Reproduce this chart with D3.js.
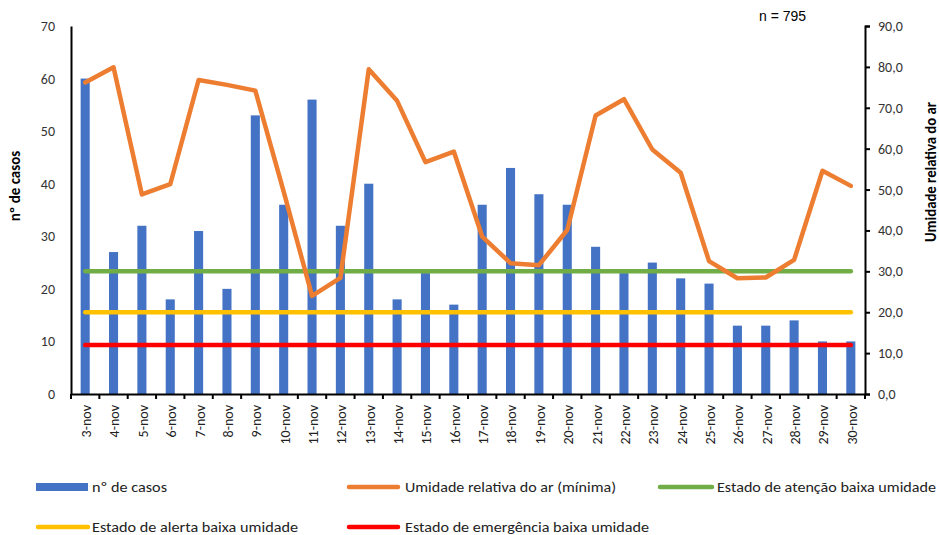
<!DOCTYPE html>
<html><head><meta charset="utf-8">
<script src="https://cdn.jsdelivr.net/npm/d3@7"></script>
<style>
body{margin:0;background:#fff;}
svg{display:block;font-family:Carlito,Calibri,Lato,sans-serif;}
</style></head>
<body><svg id="c" width="939" height="535"></svg>
<script>
const days = ["3-nov","4-nov","5-nov","6-nov","7-nov","8-nov","9-nov","10-nov","11-nov","12-nov","13-nov","14-nov","15-nov","16-nov","17-nov","18-nov","19-nov","20-nov","21-nov","22-nov","23-nov","24-nov","25-nov","26-nov","27-nov","28-nov","29-nov","30-nov"];
const cases = [60,27,32,18,31,20,53,36,56,32,40,18,23,17,36,43,38,36,28,23,25,22,21,13,13,14,10,10];
const humidity = [76.2,79.9,48.8,51.3,76.8,75.6,74.2,49.5,24.0,28.4,79.4,71.7,56.7,59.3,38.5,32.0,31.5,40.1,68.1,72.1,59.8,54.1,32.5,28.3,28.5,32.8,54.6,50.9];
const attention = days.map(() => 30);
const alertLvl = days.map(() => 20);
const emergency = days.map(() => 12);
const leftTicks = [0,10,20,30,40,50,60,70];
const rightTicks = [0,10,20,30,40,50,60,70,80,90];

const svg = d3.select("#c");
const L = 71, R = 865, T = 26, B = 394;
const x = d3.scaleBand().domain(days).range([L, R]).padding(0);
const yL = d3.scaleLinear().domain([0,70]).range([B, T]);
const yR = d3.scaleLinear().domain([0,90]).range([B, T]);
const cx = d => x(d) + x.bandwidth()/2;
const bw = x.bandwidth()*0.32;

// bars
svg.append("g").selectAll("rect").data(days).join("rect")
  .attr("x", (d) => cx(d) - bw/2)
  .attr("width", bw)
  .attr("y", (d,i) => yL(cases[i]))
  .attr("height", (d,i) => yL(0) - yL(cases[i]))
  .attr("fill", "#4472C4");

// threshold lines
const lineGen = arr => d3.line().x((d,i) => cx(days[i])).y(d => yR(d))(arr);
[[attention,"#70AD47"],[alertLvl,"#FFC000"],[emergency,"#FF0000"]].forEach(([arr,col]) => {
  svg.append("path").attr("d", lineGen(arr)).attr("fill","none")
    .attr("stroke", col).attr("stroke-width", 4.5).attr("stroke-linecap","round");
});
// humidity line
svg.append("path").attr("d", lineGen(humidity)).attr("fill","none")
  .attr("stroke","#ED7D31").attr("stroke-width",4.5).attr("stroke-linecap","round").attr("stroke-linejoin","round");

// left axis
const gL = svg.append("g").attr("transform",`translate(${L},0)`)
  .call(d3.axisLeft(yL).tickValues(leftTicks).tickSize(0).tickPadding(16));
gL.select(".domain").attr("stroke","#000").attr("stroke-width",2);
gL.selectAll("text").attr("font-size",14).attr("fill","#333").attr("font-family","Carlito,Calibri,Lato,sans-serif");

// right axis
const gR = svg.append("g").attr("transform",`translate(${R},0)`)
  .call(d3.axisRight(yR).tickValues(rightTicks).tickSize(5).tickPadding(8)
    .tickFormat(d => d.toFixed(1).replace(".", ",")));
gR.select(".domain").attr("stroke","#000").attr("stroke-width",2);
gR.selectAll("line").attr("stroke","#000").attr("stroke-width",2);
gR.selectAll("text").attr("font-size",14).attr("fill","#333").attr("font-family","Carlito,Calibri,Lato,sans-serif");

// bottom axis
const gB = svg.append("g").attr("transform",`translate(0,${B})`)
  .call(d3.axisBottom(x).tickSize(0).tickPadding(0));
gB.select(".domain").attr("stroke","#000").attr("stroke-width",2);
gB.selectAll("text")
  .attr("font-size",14).attr("fill","#222").attr("font-family","Carlito,Calibri,Lato,sans-serif")
  .attr("text-anchor","end").attr("transform","translate(1,11) rotate(-90)")
  .attr("x",0).attr("y",0).attr("dy","0.35em");
const bounds = days.map(d => x(d)).concat([R]);
gB.append("g").selectAll("line").data(bounds).join("line")
  .attr("x1", d => d).attr("x2", d => d).attr("y1",0).attr("y2",5)
  .attr("stroke","#000").attr("stroke-width",2);

// axis titles
svg.append("text").attr("transform",`translate(20,${(T+B)/2 - 24}) rotate(-90)`)
  .attr("text-anchor","middle").attr("font-size",15).attr("font-weight","bold").attr("fill","#000")
  .text("nº de casos");
svg.append("text").attr("transform",`translate(936,${(T+B)/2 - 38}) rotate(-90)`)
  .attr("text-anchor","middle").attr("font-size",15).attr("font-weight","bold").attr("fill","#000")
  .attr("textLength",140).attr("lengthAdjust","spacingAndGlyphs")
  .text("Umidade relativa do ar");

// n label
svg.append("text").attr("x",759).attr("y",21).attr("font-family","Liberation Sans, Arial, sans-serif")
  .attr("font-size",14).attr("fill","#000").text("n = 795");

// legend
const legend = [
  {label:"nº de casos", type:"rect", color:"#4472C4", x:36, x2:88, tx:92, y:487, w:75},
  {label:"Umidade relativa do ar (mínima)", type:"line", color:"#ED7D31", x:347, x2:400, tx:405, y:487, w:211},
  {label:"Estado de atenção baixa umidade", type:"line", color:"#70AD47", x:658, x2:714, tx:717, y:487, w:219},
  {label:"Estado de alerta baixa umidade", type:"line", color:"#FFC000", x:36, x2:90, tx:92, y:527, w:206},
  {label:"Estado de emergência baixa umidade", type:"line", color:"#FF0000", x:347, x2:400, tx:405, y:527, w:244}
];
const lg = svg.append("g");
legend.forEach(it => {
  if (it.type === "rect") {
    lg.append("rect").attr("x", it.x).attr("y", it.y-4).attr("width",it.x2-it.x).attr("height",8).attr("fill",it.color);
  } else {
    lg.append("line").attr("x1", it.x+2).attr("x2", it.x2-2).attr("y1", it.y).attr("y2", it.y)
      .attr("stroke", it.color).attr("stroke-width",4.5).attr("stroke-linecap","round");
  }
  lg.append("text").attr("x", it.tx).attr("y", it.y).attr("dy","0.35em")
    .attr("font-size",14).attr("fill","#222")
    .attr("textLength", it.w).attr("lengthAdjust","spacingAndGlyphs")
    .text(it.label);
});
</script></body></html>
